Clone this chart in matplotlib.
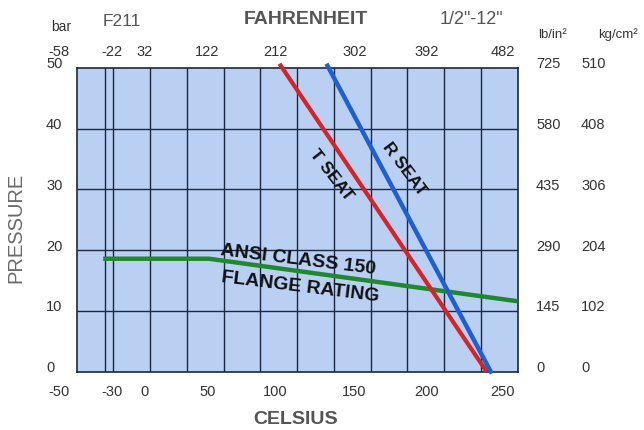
import matplotlib
matplotlib.use("Agg")
import matplotlib.pyplot as plt
from matplotlib.transforms import blended_transform_factory

# pressure scale (bar) and the matching right-hand scales
BAR_TICKS = [0, 10, 20, 30, 40, 50]
BAR_LABELS = ["0", "10", "20", "30", "40", "50"]
PSI_LABELS = ["0", "145", "290", "435", "580", "725"]
KGCM_LABELS = ["0", "102", "204", "306", "408", "510"]

# temperature scale
CELSIUS_LABELS = ["-50", "-30", "0", "50", "100", "150", "200", "250"]
FAHRENHEIT_LABELS = ["-58", "-22", "32", "122", "212", "302", "392", "482"]
GRID_C = [-31, -25, 0, 25, 50, 75, 100, 125, 150, 175, 200, 225]

# rating curves (celsius, bar)
T_SEAT_C = [88, 229]
T_SEAT_BAR = [50.7, 0]
R_SEAT_C = [120, 232.5]
R_SEAT_BAR = [50.7, -0.3]
FLANGE_C = [-32, 40, 250]
FLANGE_BAR = [18.6, 18.6, 11.6]

# label centres along the temperature axis (the scan puts them left of the lines)
LABEL_X = [-62, -26, -4, 39, 85, 139, 188, 240]

W, H = 644, 430
NUM_COLOR = "#333333"
HEAD_COLOR = "#555555"

plt.rcParams["font.family"] = ["Liberation Sans", "DejaVu Sans"]

fig = plt.figure(figsize=(W / 100, H / 100), dpi=100)
ax = fig.add_axes([76.7 / W, 1 - 371.7 / H, 440.8 / W, 303.7 / H])
ax.set_facecolor("#b9d0f2")
ax.set_xlim(-50, 250)
ax.set_ylim(0, 50)

grid_color = "#1c2742"
for c in GRID_C:
    ax.axvline(c, color=grid_color, lw=1.0, zorder=1)
for b in BAR_TICKS[1:-1]:
    ax.axhline(b, color=grid_color, lw=1.0, zorder=1)
for s in ax.spines.values():
    s.set_color(grid_color)
    s.set_linewidth(1.2)
ax.set_xticks([])
ax.set_yticks([])

ax.plot(FLANGE_C, FLANGE_BAR, color="#1e8a2c", lw=3.2, zorder=3,
        solid_capstyle="butt", clip_on=False)
ax.plot(T_SEAT_C, T_SEAT_BAR, color="#d62426", lw=3.0, zorder=4,
        solid_capstyle="butt", clip_on=False)
ax.plot(R_SEAT_C, R_SEAT_BAR, color="#1f5fcf", lw=3.2, zorder=4,
        solid_capstyle="butt", clip_on=False)

# curve labels
ax.text(123.5, 32.4, "T SEAT", rotation=-52, ha="center", va="center",
        fontsize=12.5, fontweight="bold", color="#111111", zorder=5)
ax.text(173, 33.4, "R SEAT", rotation=-53, ha="center", va="center",
        fontsize=12.5, fontweight="bold", color="#111111", zorder=5)
ax.text(100.5, 18.4, "ANSI CLASS 150", rotation=-7, ha="center", va="center",
        fontsize=14, fontweight="bold", color="#111111", zorder=5)
ax.text(102, 13.9, "FLANGE RATING", rotation=-7, ha="center", va="center",
        fontsize=14, fontweight="bold", color="#111111", zorder=5)

# pressure labels, left and right
ty = blended_transform_factory(ax.transAxes, ax.transData)
for b, lb, lp, lk in zip(BAR_TICKS, BAR_LABELS, PSI_LABELS, KGCM_LABELS):
    ax.text(-0.0696, b + 0.6, lb, transform=ty, ha="left", va="center",
            fontsize=10.5, color=NUM_COLOR)
    ax.text(1.042, b + 0.6, lp, transform=ty, ha="left", va="center",
            fontsize=10.5, color=NUM_COLOR)
    ax.text(1.144, b + 0.6, lk, transform=ty, ha="left", va="center",
            fontsize=10.5, color=NUM_COLOR)

# temperature labels, top and bottom
tx = blended_transform_factory(ax.transData, ax.transAxes)
for x, lc, lf in zip(LABEL_X, CELSIUS_LABELS, FAHRENHEIT_LABELS):
    ax.text(x, -0.066, lc, transform=tx, ha="center", va="center",
            fontsize=10.5, color=NUM_COLOR, clip_on=False)
    ax.text(x, 1.053, lf, transform=tx, ha="center", va="center",
            fontsize=10.5, color=NUM_COLOR, clip_on=False)


def px(x, y):
    return x / W, 1 - y / H


fig.text(*px(61, 27), "bar", ha="center", va="center", fontsize=10,
         color=NUM_COLOR)
fig.text(*px(122, 21), "F211", ha="center", va="center", fontsize=12.5,
         color=HEAD_COLOR)
fig.text(*px(306, 20), "FAHRENHEIT", ha="center", va="center", fontsize=14,
         fontweight="bold", color=HEAD_COLOR)
fig.text(*px(471, 19), "1/2\"-12\"", ha="center", va="center", fontsize=13,
         color=HEAD_COLOR)
fig.text(*px(538, 35), "lb/in²", ha="left", va="center", fontsize=9.5,
         color=NUM_COLOR)
fig.text(*px(598, 35), "kg/cm²", ha="left", va="center", fontsize=9.5,
         color=NUM_COLOR)
fig.text(*px(296, 419), "CELSIUS", ha="center", va="center", fontsize=14,
         fontweight="bold", color=HEAD_COLOR)
fig.text(*px(16, 228), "PRESSURE", ha="center", va="center", rotation=90,
         fontsize=14.5, color="#6a6a6a")

fig.savefig("out.png", dpi=100)
